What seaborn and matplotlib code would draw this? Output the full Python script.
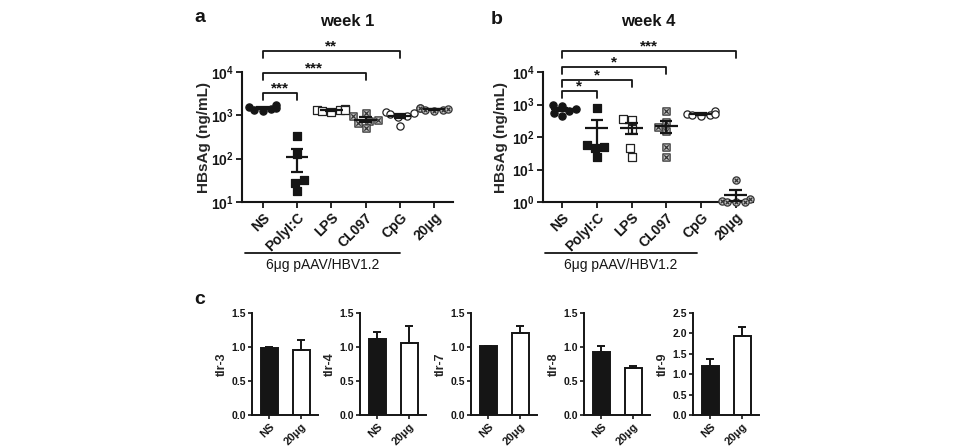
import numpy as np
import matplotlib
matplotlib.use('Agg')
import matplotlib.pyplot as plt
import matplotlib.transforms as mtransforms
from matplotlib.path import Path
from matplotlib.ticker import NullLocator
import seaborn as sns

sns.set_style('ticks')
plt.rcParams['font.family'] = ['Liberation Sans', 'DejaVu Sans']
plt.rcParams['font.weight'] = 'bold'
plt.rcParams['mathtext.fontset'] = 'custom'
plt.rcParams['mathtext.rm'] = 'Liberation Sans'
plt.rcParams['mathtext.bf'] = 'Liberation Sans:bold'
plt.rcParams['mathtext.it'] = 'Liberation Sans:italic'

INK = '#151515'

# ---------------- data ----------------
groups = ['NS', 'PolyI:C', 'LPS', 'CL097', 'CpG', '20μg']

week1_NS = [1750, 1550, 1400, 1300, 1450, 1250]
week1_PolyIC = [325, 131, 32, 28, 18]
week1_LPS = [1300, 1350, 1200, 1250, 1400, 1300]
week1_CL097 = [1150, 950, 800, 750, 650, 500]
week1_CpG = [1200, 1150, 1050, 950, 900, 580]
week1_20ug = [1500, 1450, 1350, 1300, 1250, 1400]

week4_NS = [1000, 900, 750, 650, 550, 450]
week4_PolyIC = [760, 55, 50, 45, 25]
week4_LPS = [360, 340, 180, 45, 25]
week4_CL097 = [650, 280, 200, 150, 50, 25]
week4_CpG = [650, 520, 480, 450, 470, 500]
week4_20ug = [4.7, 1.2, 1.1, 1.0, 1.0, 1.0]

week1_sig = [('PolyI:C', '***'), ('CL097', '***'), ('CpG', '**')]
week4_sig = [('PolyI:C', '*'), ('LPS', '*'), ('CL097', '*'), ('20μg', '***')]

tlr_groups = ['NS', '20μg']
tlr_names = ['tlr-3', 'tlr-4', 'tlr-7', 'tlr-8', 'tlr-9']
tlr3_mean = [0.99, 0.95]
tlr3_err = [0.01, 0.15]
tlr4_mean = [1.12, 1.06]
tlr4_err = [0.10, 0.25]
tlr7_mean = [1.01, 1.21]
tlr7_err = [0.005, 0.10]
tlr8_mean = [0.93, 0.69]
tlr8_err = [0.08, 0.03]
tlr9_mean = [1.20, 1.93]
tlr9_err = [0.17, 0.22]
tlr_ymax = [1.5, 1.5, 1.5, 1.5, 2.5]

# ---------------- markers ----------------
MV, LT, CP = Path.MOVETO, Path.LINETO, Path.CLOSEPOLY
sq = Path([(-1, -1), (1, -1), (1, 1), (-1, 1), (-1, -1)], [MV, LT, LT, LT, CP])
xa = Path([(-0.6, -0.6), (0.6, 0.6)], [MV, LT])
xb = Path([(-0.6, 0.6), (0.6, -0.6)], [MV, LT])
square_x = Path.make_compound_path(sq, xa, xb)
circ = Path.unit_circle()
xc = Path([(-0.5, -0.5), (0.5, 0.5)], [MV, LT])
xd = Path([(-0.5, 0.5), (0.5, -0.5)], [MV, LT])
circle_x = Path.make_compound_path(circ, xc, xd)

styles = [('o', INK, INK), ('s', INK, INK), ('s', 'white', '#222222'),
          (square_x, '#c4c4c4', '#333333'), ('o', 'white', '#222222'),
          (circle_x, '#c4c4c4', '#333333')]

W, H = 957, 448
fig = plt.figure(figsize=(W / 100, H / 100), dpi=100)


def px_axes(left, top, right, bottom):
    return fig.add_axes([left / W, 1 - bottom / H, (right - left) / W, (bottom - top) / H])


def scatter_panel(ax, datasets, ylim, yticks, title, sigs, br_levels, xlim, line_span):
    ax.set_yscale('log')
    for g, vals, (mk, fc, ec) in zip(groups, datasets, styles):
        sns.swarmplot(x=[g] * len(vals), y=vals, order=groups, ax=ax, marker=mk,
                      color=fc, edgecolor=ec, linewidth=0.9, size=5.2, zorder=3)
    for i, vals in enumerate(datasets):
        v = np.asarray(vals, float)
        m = v.mean()
        se = v.std(ddof=1) / np.sqrt(len(v))
        ax.hlines(m, i - 0.33, i + 0.33, color=INK, lw=1.6, zorder=6)
        ax.vlines(i, m - se, m + se, color=INK, lw=1.6, zorder=6)
        ax.hlines([m - se, m + se], i - 0.18, i + 0.18, color=INK, lw=1.6, zorder=6)
    for c in ax.collections:
        c.set_clip_on(False)
    ax.set_xlim(*xlim)
    ax.set_ylim(*ylim)
    ax.set_yticks(yticks)
    ax.set_yticklabels([r'$\mathbf{10^{%d}}$' % int(np.log10(t)) for t in yticks], fontsize=10)
    ax.yaxis.set_minor_locator(NullLocator())
    ax.set_xticks(range(len(groups)))
    ax.set_xticklabels(groups, rotation=45, ha='right', rotation_mode='anchor',
                       fontsize=10, fontweight='bold')
    ax.set_xlabel('')
    ax.set_ylabel('HBsAg (ng/mL)', fontsize=11, fontweight='bold')
    ax.tick_params(axis='both', length=4, width=1.3, colors=INK, pad=2)
    for s in ['left', 'bottom']:
        ax.spines[s].set_linewidth(1.5)
        ax.spines[s].set_color(INK)
    sns.despine(ax=ax)
    tr = mtransforms.blended_transform_factory(ax.transData, ax.transAxes)
    drop = 7 / 130
    for (g, star), lev in zip(sigs, br_levels):
        j = groups.index(g)
        ax.plot([0, 0, j, j], [lev - drop, lev, lev, lev - drop], transform=tr,
                color=INK, lw=1.3, clip_on=False)
        ax.text(j / 2, lev + 0.005, star, transform=tr, ha='center', va='baseline',
                fontsize=11, fontweight='bold', color=INK)
    ax.text(0.5, 1.385, title, transform=ax.transAxes, ha='center', va='center',
            fontsize=12, fontweight='bold', color=INK)
    ax.plot(list(line_span), [-0.392, -0.392], transform=tr, color=INK, lw=1.3, clip_on=False)
    ax.text(sum(line_span) / 2, -0.485, '6μg pAAV/HBV1.2', transform=tr, ha='center',
            va='center', fontsize=10, fontweight='normal', color=INK)


axa = px_axes(242, 72, 453, 202)
scatter_panel(axa, [week1_NS, week1_PolyIC, week1_LPS, week1_CL097, week1_CpG, week1_20ug],
              (10, 1e4), [10, 100, 1000, 10000], 'week 1', week1_sig,
              [0.841, 0.995, 1.164], (-0.6, 5.55), (-0.5, 4.0))
axa.yaxis.set_label_coords(-0.18, 0.5)
axa.yaxis.label.set_va('center')

axb = px_axes(543, 72, 753, 202)
scatter_panel(axb, [week4_NS, week4_PolyIC, week4_LPS, week4_CL097, week4_CpG, week4_20ug],
              (1, 1e4), [1, 10, 100, 1000, 10000], 'week 4', week4_sig,
              [0.856, 0.938, 1.041, 1.164], (-0.55, 5.5), (-0.5, 3.9))
axb.yaxis.set_label_coords(-0.2, 0.5)
axb.yaxis.label.set_va('center')

# ---------------- panel c ----------------
tlr_means = [tlr3_mean, tlr4_mean, tlr7_mean, tlr8_mean, tlr9_mean]
tlr_errs = [tlr3_err, tlr4_err, tlr7_err, tlr8_err, tlr9_err]
c_lefts = [252, 360, 471, 584, 693]
for k, (name, means, errs, ymax, lx) in enumerate(zip(tlr_names, tlr_means, tlr_errs, tlr_ymax, c_lefts)):
    ax = px_axes(lx, 313, lx + 66, 415)
    sns.barplot(x=tlr_groups, y=means, hue=tlr_groups, palette=[INK, 'white'],
                order=tlr_groups, hue_order=tlr_groups, legend=False, ax=ax,
                edgecolor=INK, linewidth=1.4, width=0.53, errorbar=None, saturation=1)
    ax.errorbar([0, 1], means, yerr=[[0, 0], errs], fmt='none', ecolor=INK,
                elinewidth=1.4, capsize=3, capthick=1.4, zorder=5)
    ax.set_xlim(-0.53, 1.52)
    ax.set_ylim(0, ymax)
    ticks = np.arange(0, ymax + 0.01, 0.5)
    ax.set_yticks(ticks)
    ax.set_yticklabels(['%.1f' % t for t in ticks], fontsize=7.5, fontweight='bold')
    ax.set_xticks([0, 1])
    ax.set_xticklabels(tlr_groups, rotation=45, ha='right', rotation_mode='anchor',
                       fontsize=8, fontweight='bold')
    ax.set_xlabel('')
    ax.set_ylabel(name, fontsize=9, fontweight='bold')
    ax.yaxis.set_label_coords(-0.45, 0.5)
    ax.yaxis.label.set_va('center')
    ax.tick_params(axis='both', length=3, width=1.2, colors=INK, pad=1.5)
    for s in ['left', 'bottom']:
        ax.spines[s].set_linewidth(1.4)
        ax.spines[s].set_color(INK)
    sns.despine(ax=ax)

fig.text(200 / W, 1 - 18 / H, 'a', fontsize=14, fontweight='bold', ha='center', va='center', color=INK)
fig.text(497 / W, 1 - 19 / H, 'b', fontsize=14, fontweight='bold', ha='center', va='center', color=INK)
fig.text(200 / W, 1 - 300 / H, 'c', fontsize=14, fontweight='bold', ha='center', va='center', color=INK)

fig.savefig('out.png', dpi=100)
